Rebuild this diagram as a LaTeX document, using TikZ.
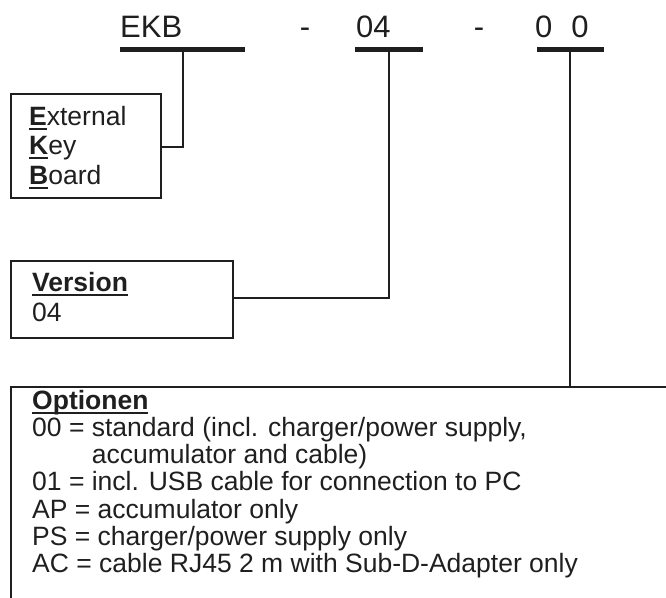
\documentclass[tikz,border=0pt]{standalone}
\usepackage{fontspec}
\setmainfont{Liberation Sans}
\newcommand\myul[1]{\sbox0{#1}\rlap{\rule[-4.5pt]{\wd0}{2pt}}\usebox0}
\begin{document}
\begin{tikzpicture}[x=1pt,y=-1pt,
  bar/.style={fill=black!88, inner sep=0, minimum height=4.5pt, draw=none},
  frame/.style={draw=black!88, line width=2pt, inner sep=0},
  wire/.style={draw=black!88, line width=2pt},
  big/.style={font=\fontsize{31}{31}\selectfont, inner sep=0, anchor=base west, text=black!88},
  txt/.style={font=\fontsize{26.5}{27}\selectfont, inner sep=0, anchor=base west, text=black!88}]
\useasboundingbox (0,0) rectangle (666,597);
\clip (0,0) rectangle (666,597);
% code line
\node[big] (tekb) at (120,37) {EKB};
\node[big, anchor=base] (d1) at (305,37) {-};
\node[big] (t04) at (356,37) {04};
\node[big, anchor=base] (d2) at (479,37) {-};
\node[big] (t00) at (535,37) {0\hspace{19pt}0};
\node[bar, minimum width=125pt] (bekb) at (182.5,49.5) {};
\node[bar, minimum width=68pt] (b04) at (389,49.5) {};
\node[bar, minimum width=67pt] (b00) at (570,49.5) {};
% boxes
\node[frame, minimum width=150pt, minimum height=104pt, anchor=north west] (ekbbox) at (10,93) {};
\node[frame, minimum width=222pt, minimum height=77pt, anchor=north west] (verbox) at (10,260) {};
\node[frame, minimum width=720pt, minimum height=300pt, anchor=north west] (optbox) at (10,386) {};
% EKB box text
\node[txt] (l1) at (29,125) {\myul{\textbf{E}}xternal};
\node[txt] (l2) at (29,154.5) {\myul{\textbf{K}}ey};
\node[txt] (l3) at (29,184) {\myul{\textbf{B}}oard};
% Version text
\node[txt] (v1) at (32,291) {\myul{\textbf{Version}}};
\node[txt] (v2) at (32,321) {04};
% Options text
\node[txt] (o0) at (32,409) {\myul{\textbf{Optionen}}};
\node[txt] (o1) at (32,436.3) {00 = standard (incl. charger/power supply,};
\node[txt] (o2) at (32,463.6) {\hphantom{00 = }accumulator and cable)};
\node[txt] (o3) at (32,490.9) {01 = incl. USB cable for connection to PC};
\node[txt] (o4) at (32,518.2) {AP = accumulator only};
\node[txt] (o5) at (32,545.5) {PS = charger/power supply only};
\node[txt] (o6) at (32,572.8) {AC = cable RJ45 2 m with Sub-D-Adapter only};
% connectors
\coordinate (j1) at (160,147);
\coordinate (j2) at (232,298);
\draw[wire] (bekb.south) |- (j1);
\draw[wire] (b04.south) |- (j2);
\draw[wire] (b00.south) -- (b00.south |- optbox.north);
\end{tikzpicture}
\end{document}
